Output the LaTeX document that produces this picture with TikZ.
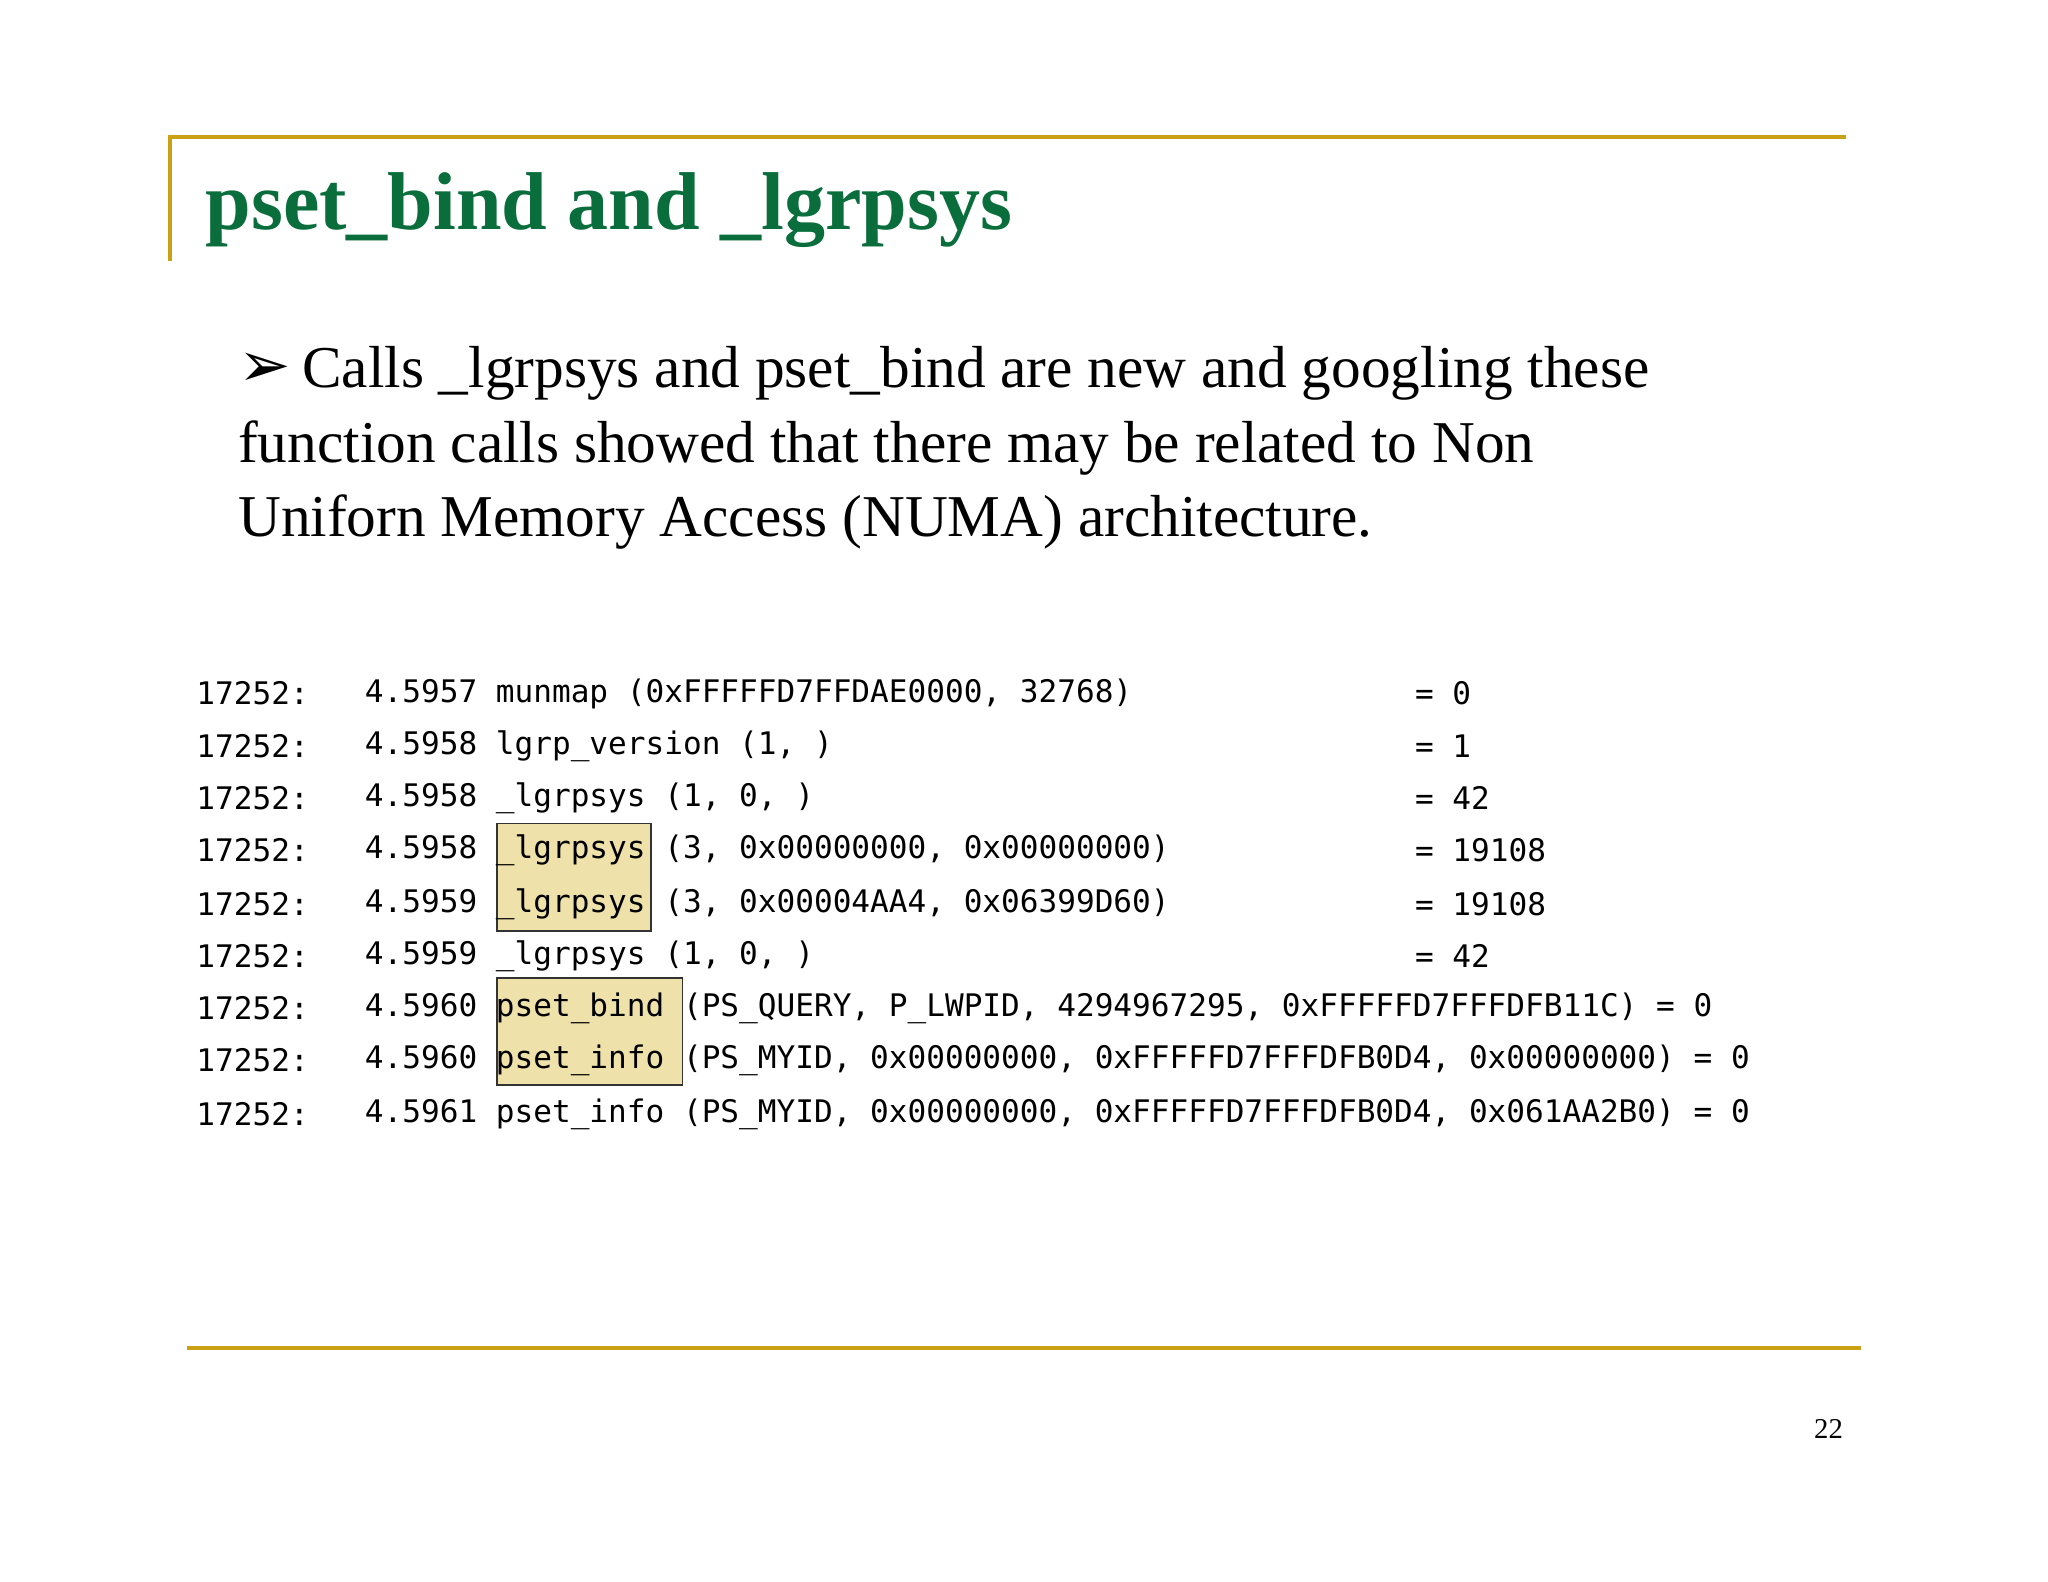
\documentclass[tikz,border=0pt]{standalone}
\usepackage{fontspec}
\setmainfont{Liberation Serif}
\setmonofont{DejaVu Sans Mono}
\newfontfamily\dejafont{DejaVu Sans}
\definecolor{gold}{RGB}{204,160,20}
\definecolor{titlegreen}{RGB}{10,110,60}
\definecolor{hl}{RGB}{238,226,170}
\tikzset{mono/.style={anchor=west,inner sep=0pt,font=\fontsize{11.9}{14}\ttfamily},
 hlbox/.style={draw=black!80,fill=hl,line width=0.6pt},
 rule/.style={draw=gold,line width=1.5pt},
 body/.style={anchor=base west,inner sep=0pt,font=\fontsize{22.7}{27}\selectfont}}
\begin{document}
\begin{tikzpicture}[x=0.5pt,y=-0.5pt]
\useasboundingbox[fill=white] (0,0) rectangle (1568,1211);
\draw[rule] (130,200) -- (130,105) -- (1413,105);
\draw[rule] (143,1032) -- (1425,1032);
\node[anchor=base west,inner sep=0pt,text=titlegreen,font=\fontsize{31.4}{35}\selectfont\bfseries] (title) at (157,176) {pset\_bind and \_lgrpsys};
\node[anchor=base west,inner sep=0pt,font=\fontsize{24}{26}\dejafont] (bul) at (182,296) {➢};
\node[body] (l1) at (231,297) {Calls \_lgrpsys and pset\_bind are new and googling these};
\node[body] (l2) at (182,354) {function calls showed that there may be related to Non};
\node[body] (l3) at (182,411) {Uniforn Memory Access (NUMA) architecture.};
\node[hlbox,minimum width=59pt,minimum height=41pt,anchor=north west,inner sep=0pt] (b1) at (380,630) {};
\node[hlbox,minimum width=71pt,minimum height=41pt,anchor=north west,inner sep=0pt] (b2) at (380,748) {};
\foreach \y/\t/\r in {531/{4.5957 munmap (0xFFFFFD7FFDAE0000, 32768)}/{= 0},
 571/{4.5958 lgrp\_version (1, )}/{= 1},
 611/{4.5958 \_lgrpsys (1, 0, )}/{= 42},
 651/{4.5958 \_lgrpsys (3, 0x00000000, 0x00000000)}/{= 19108},
 692/{4.5959 \_lgrpsys (3, 0x00004AA4, 0x06399D60)}/{= 19108},
 732/{4.5959 \_lgrpsys (1, 0, )}/{= 42}}{
 \node[mono] at (150,\y) {17252:};
 \node[mono] at (279,\y) {\t};
 \node[mono] at (1083,\y) {\r};
}
\foreach \y/\t in {772/{4.5960 pset\_bind (PS\_QUERY, P\_LWPID, 4294967295, 0xFFFFFD7FFFDFB11C) = 0},
 812/{4.5960 pset\_info (PS\_MYID, 0x00000000, 0xFFFFFD7FFFDFB0D4, 0x00000000) = 0},
 853/{4.5961 pset\_info (PS\_MYID, 0x00000000, 0xFFFFFD7FFFDFB0D4, 0x061AA2B0) = 0}}{
 \node[mono] at (150,\y) {17252:};
 \node[mono] at (279,\y) {\t};
}
\node[inner sep=0pt,font=\fontsize{11}{13}\selectfont] (pg) at (1400,1094) {22};
\end{tikzpicture}
\end{document}
